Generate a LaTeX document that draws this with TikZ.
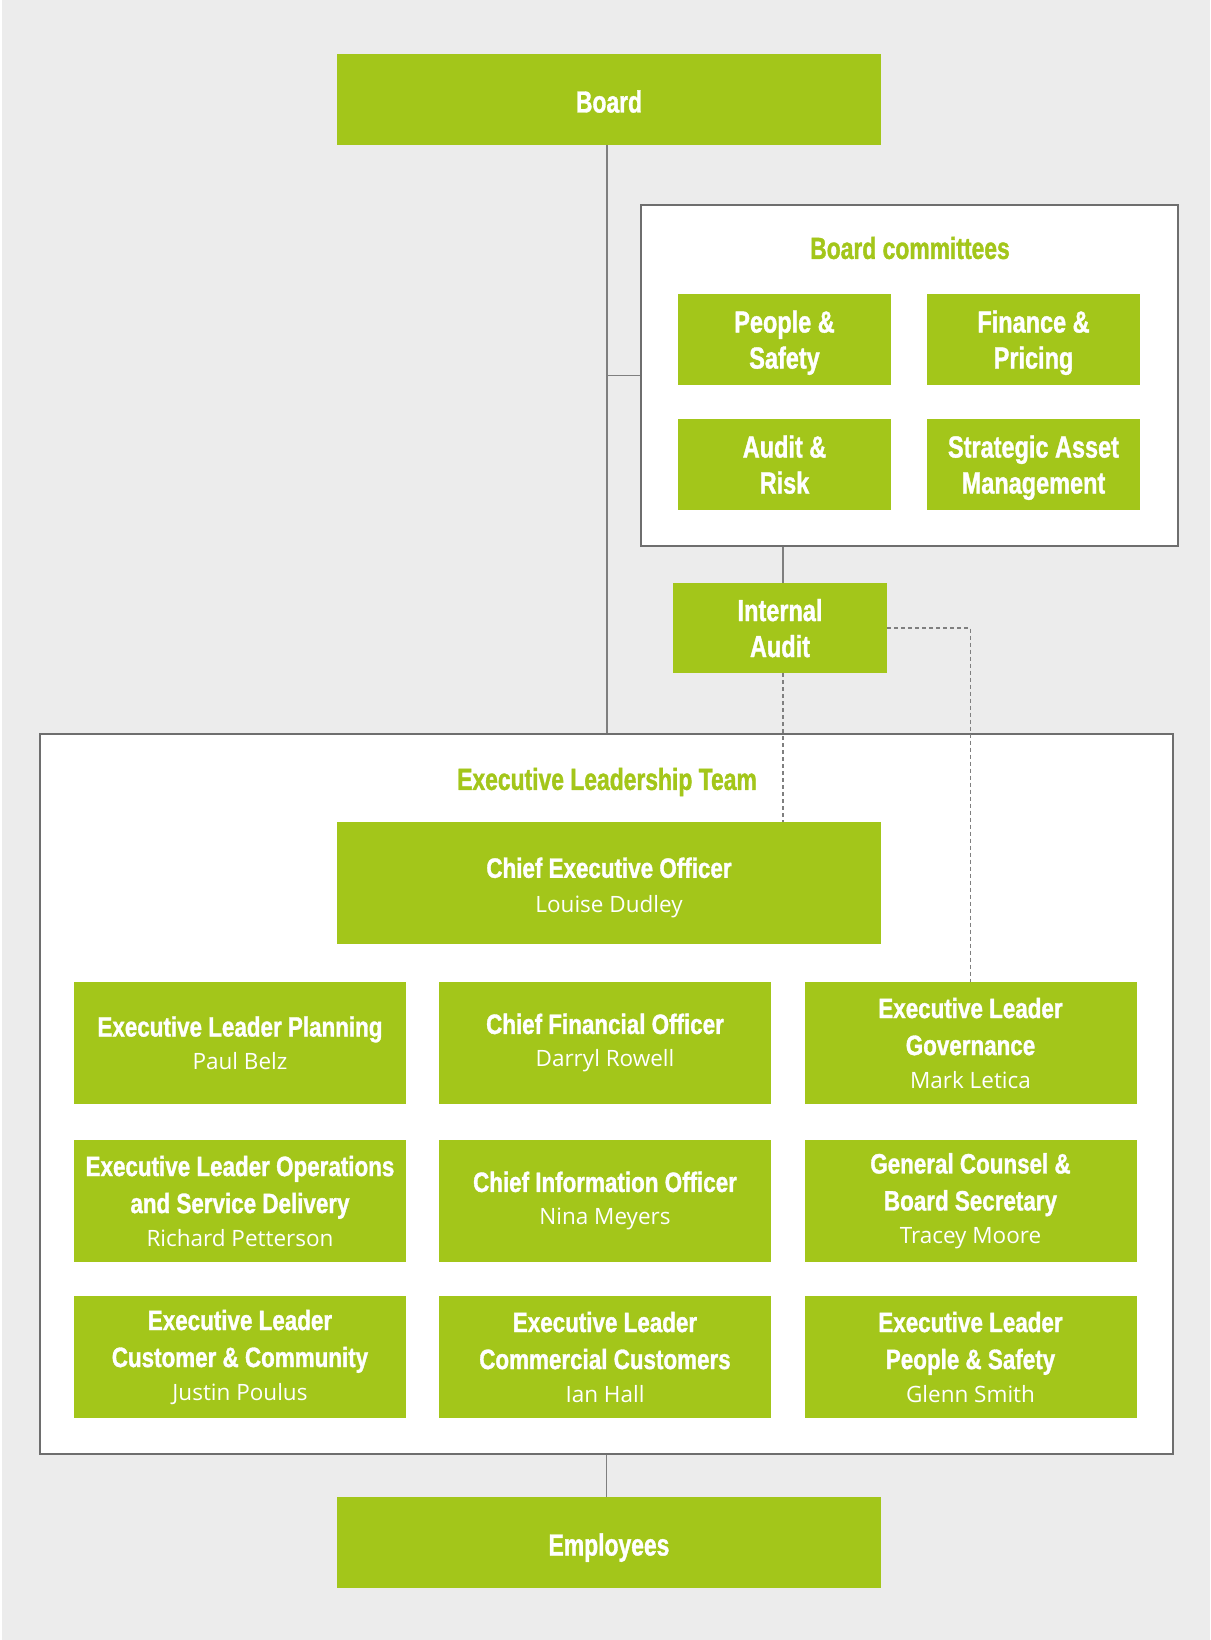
\documentclass[tikz,border=0pt]{standalone}
\usepackage{fontspec}
\newfontfamily\condfont[FakeStretch=0.77, BoldFeatures={FakeBold=1.2}]{Liberation Sans}
\newfontfamily\condfontw[FakeStretch=0.80, BoldFeatures={FakeBold=1.2}]{Liberation Sans}
\newfontfamily\condfontn[FakeStretch=0.75, BoldFeatures={FakeBold=1.2}]{Liberation Sans}
\newfontfamily\namefont{Open Sans}
\definecolor{lgreen}{HTML}{A3C61A}
\definecolor{bggray}{HTML}{ECECEC}
\definecolor{linegray}{HTML}{7F7F7F}
\definecolor{framegray}{HTML}{6E6E6E}
\newcommand{\nm}[1]{{\namefont\mdseries\fontsize{22.5}{33}\selectfont #1}}
\tikzset{
  gbox/.style={fill=lgreen, inner sep=0pt, text=white, align=center,
    font=\condfontw\bfseries\fontsize{28}{37}\selectfont},
  bigbox/.style={gbox, minimum width=544pt, minimum height=91pt,
    text height=26pt, text depth=0pt,
    font=\condfontn\bfseries\fontsize{30.5}{37}\selectfont},
  cbox/.style={gbox, minimum width=213pt, minimum height=91pt, text depth=0pt,
    font=\condfont\bfseries\fontsize{30.5}{36}\selectfont},
  pbox/.style={gbox, minimum width=332pt, minimum height=122pt},
  cont/.style={draw=framegray, line width=1.5pt, fill=white, inner sep=0pt},
  ttl/.style={text=lgreen, inner sep=0pt, font=\condfontn\bfseries\fontsize{30.5}{36}\selectfont},
  conn/.style={draw=linegray, line width=1.5pt},
  dconn/.style={draw=linegray, line width=1.3pt, dash pattern=on 4pt off 3pt}
}
\begin{document}
\begin{tikzpicture}[x=1pt,y=-1pt]
\fill[bggray] (0,0) rectangle (1210,1640);
\fill[white] (0,0) rectangle (2,1640);
\useasboundingbox (0,0) rectangle (1210,1640);

% containers
\node[cont, minimum width=537pt, minimum height=341pt] (bc) at (909.5,375.5) {};
\node[cont, minimum width=1133pt, minimum height=720pt] (elt) at (606.5,1094) {};

% top
\node[bigbox] (board) at (609,99.5) {Board};
\node[ttl] (bctitle) at (910,248) {Board committees};
\node[cbox] (ps) at (784.5,339.5) {People \&\\Safety};
\node[cbox] (fp) at (1033.5,339.5) {Finance \&\\Pricing};
\node[cbox] (ar) at (784.5,464.5) {Audit \&\\Risk};
\node[cbox] (sam) at (1033.5,464.5) {Strategic Asset\\Management};
\node[cbox, minimum width=214pt, minimum height=90pt] (ia) at (780,628) {Internal\\Audit};

% ELT
\node[ttl] (elttitle) at (607,782) {Executive Leadership Team};
\node[gbox, minimum width=544pt, minimum height=122pt] (ceo) at (609,883) {\rule{0pt}{30pt}Chief Executive Officer\\[-2pt]\nm{Louise Dudley}};

\node[pbox] (plan) at (240,1043) {Executive Leader Planning\\[-4pt]\nm{Paul Belz}};
\node[pbox] (cfo) at (605,1043) {Chief Financial Officer\\[-4pt]\nm{Darryl Rowell}};
\node[pbox] (gov) at (970.5,1043) {Executive Leader\\Governance\\[-4pt]\nm{Mark Letica}};

\node[pbox] (ops) at (240,1201) {Executive Leader Operations\\and Service Delivery\\[-4pt]\nm{Richard Petterson}};
\node[pbox] (cio) at (605,1201) {Chief Information Officer\\[-4pt]\nm{Nina Meyers}};
\node[pbox] (gc) at (970.5,1201) {General Counsel \&\\Board Secretary\\[-4pt]\nm{Tracey Moore}};

\node[pbox] (cc) at (240,1357) {Executive Leader\\Customer \& Community\\[-4pt]\nm{Justin Poulus}};
\node[pbox] (comm) at (605,1357) {Executive Leader\\Commercial Customers\\[-4pt]\nm{Ian Hall}};
\node[pbox] (pplsafe) at (970.5,1357) {Executive Leader\\People \& Safety\\[-4pt]\nm{Glenn Smith}};

\node[bigbox] (emp) at (609,1542.5) {Employees};

% connectors
\coordinate (spine) at ([xshift=-2pt]board.south);
\coordinate (iatop) at ([xshift=3pt]ia.north);
\coordinate (iabot) at ([xshift=3pt]ia.south);
\draw[conn] (spine) -- (spine |- elt.north);
\draw[conn] (bc.west) -- (bc.west -| spine);
\draw[conn] (iatop) -- (iatop |- bc.south);
\draw[dconn] (iabot) -- (iabot |- ceo.north);
\draw[dconn] (ia.east) -| (gov.north);
\draw[conn] (elt.south) -- (elt.south |- emp.north);
\end{tikzpicture}
\end{document}
